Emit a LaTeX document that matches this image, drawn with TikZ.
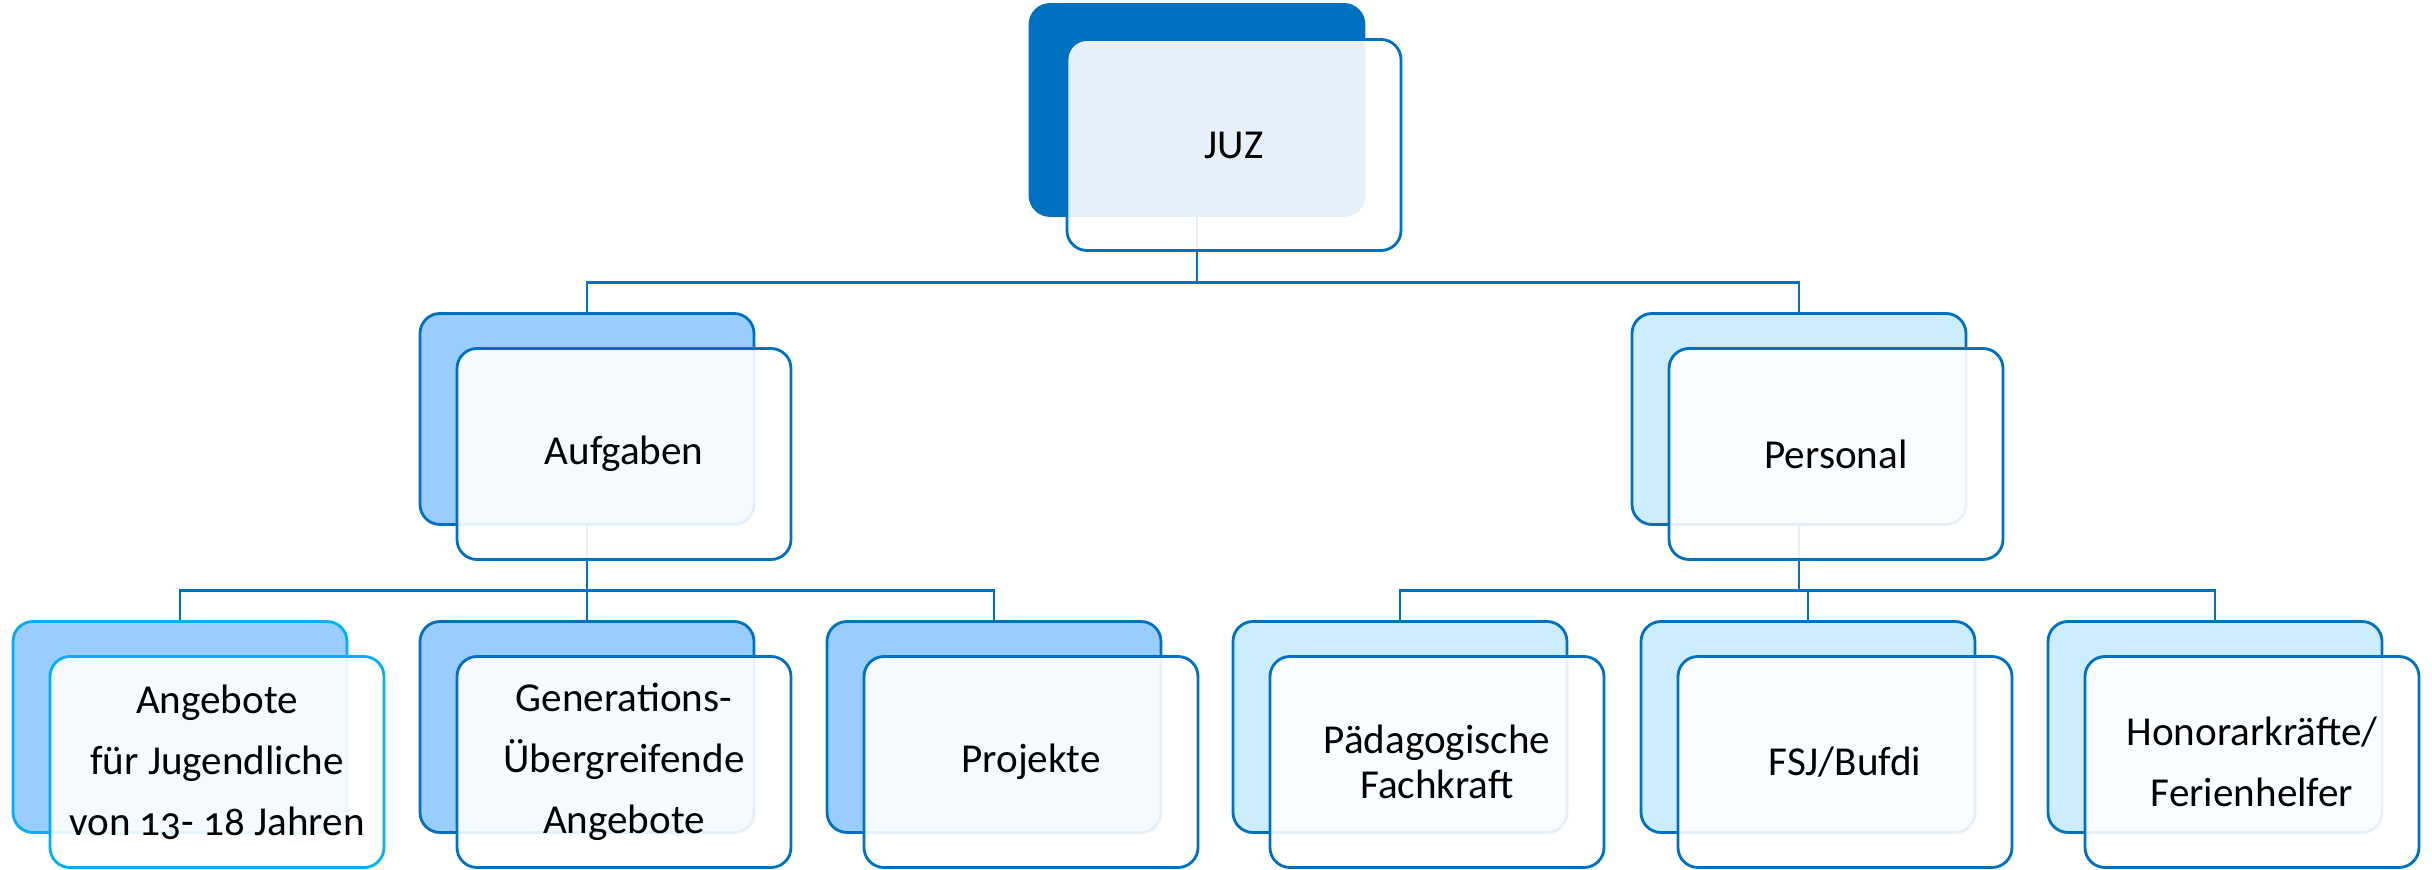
\documentclass[tikz,border=0pt]{standalone}
\usepackage{fontspec}
\setmainfont{Carlito}[Numbers=OldStyle]
\definecolor{orgblue}{HTML}{0070C0}
\definecolor{orgcyan}{HTML}{00B0F0}
\definecolor{aufgabenfill}{HTML}{99CCFF}
\definecolor{personalfill}{HTML}{CCECFF}

\begin{document}
\begin{tikzpicture}[
    back/.style={rectangle, rounded corners=0.2cm, draw=orgblue, line width=0.8pt,
      minimum width=3.34cm, minimum height=2.11cm, inner sep=0pt},
    front/.style={back, fill=white, fill opacity=0.9, text opacity=1, align=center,
      font=\fontsize{11.7}{17.4}\selectfont},
    link/.style={draw=orgblue, line width=0.8pt}
  ]
  \useasboundingbox (0,0) rectangle (24.32,-8.70);

  % back boxes
  \node[back, fill=orgblue] (juz back) at (11.97,-1.10) {};
  \node[back, fill=aufgabenfill] (aufgaben back) at (5.87,-4.19) {};
  \node[back, fill=personalfill] (personal back) at (17.99,-4.19) {};
  \node[back, fill=aufgabenfill, draw=orgcyan] (angebote back) at (1.80,-7.27) {};
  \node[back, fill=aufgabenfill] (generation back) at (5.87,-7.27) {};
  \node[back, fill=aufgabenfill] (projekte back) at (9.94,-7.27) {};
  \node[back, fill=personalfill] (paed back) at (14.00,-7.27) {};
  \node[back, fill=personalfill] (fsj back) at (18.08,-7.27) {};
  \node[back, fill=personalfill] (honorar back) at (22.15,-7.27) {};

  % connectors
  \draw[link] (juz back.south) -- ++(0,-0.66) coordinate (juz bar);
  \draw[link] (juz bar) -| (aufgaben back.north);
  \draw[link] (juz bar) -| (personal back.north);
  \draw[link] (aufgaben back.south) -- ++(0,-0.65) coordinate (aufgaben bar);
  \draw[link] (aufgaben bar) -| (angebote back.north);
  \draw[link] (aufgaben bar) -- (generation back.north);
  \draw[link] (aufgaben bar) -| (projekte back.north);
  \draw[link] (personal back.south) -- ++(0,-0.65) coordinate (personal bar);
  \draw[link] (personal bar) -| (paed back.north);
  \draw[link] (personal bar) -| (fsj back.north);
  \draw[link] (personal bar) -| (honorar back.north);

  % front boxes
  \node[front] (juz) at ([shift={(0.37,-0.35)}]juz back) {JUZ};
  \node[front] (aufgaben) at ([shift={(0.37,-0.35)}]aufgaben back) {Aufgaben};
  \node[front] (personal) at ([shift={(0.37,-0.35)}]personal back) {Personal};
  \node[front, draw=orgcyan] (angebote) at ([shift={(0.37,-0.35)}]angebote back)
    {Angebote\\für Jugendliche\\von 13- 18 Jahren};
  \node[front] (generation) at ([shift={(0.37,-0.35)}]generation back)
    {Generations-\\Übergreifende\\Angebote};
  \node[front] (projekte) at ([shift={(0.37,-0.35)}]projekte back) {Projekte};
  \node[front, font=\fontsize{11.7}{12.8}\selectfont] (paed)
    at ([shift={(0.37,-0.35)}]paed back) {Pädagogische\\Fachkraft};
  \node[front] (fsj) at ([shift={(0.37,-0.35)}]fsj back) {FSJ/Bufdi};
  \node[front] (honorar) at ([shift={(0.37,-0.35)}]honorar back)
    {Honorarkräfte/\\Ferienhelfer};
\end{tikzpicture}
\end{document}
